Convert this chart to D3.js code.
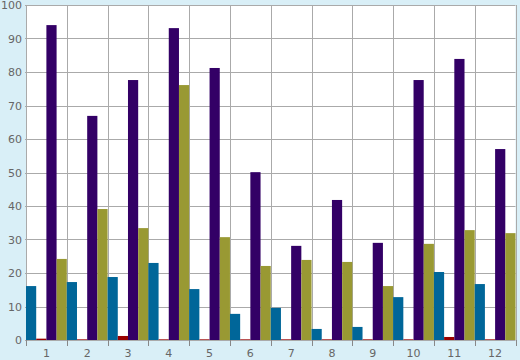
<!DOCTYPE html>
<html><head><meta charset="utf-8">
<script src="https://cdn.jsdelivr.net/npm/d3@7"></script>
<style>html,body{margin:0;padding:0;background:#d9eff7;}svg{display:block;}</style>
</head><body><svg id="c" width="520" height="360"></svg>
<script>
const categories = ["1","2","3","4","5","6","7","8","9","10","11","12"];
const seriesNames = ["A","B","C","D"];
const teal   = [16.1,17.3,18.8,23.0,15.2,7.8,9.6,3.3,3.9,12.8,20.3,16.7];
const red    = [0.4,0.2,1.2,0.2,0.2,0.2,0.2,0.2,0.2,0.2,0.9,0.2];
const purple = [94.0,66.9,77.6,93.1,81.2,50.1,28.1,41.8,29.0,77.6,83.9,57.0];
const olive  = [24.2,39.1,33.4,76.1,30.7,22.1,23.9,23.3,16.1,28.7,32.8,31.9];
const yTicks = [0,10,20,30,40,50,60,70,80,90,100];
const colors = ["#006699","#990000","#330066","#999933"];
const series = [teal, red, purple, olive];

const svg = d3.select("#c");
const m = {l:26, r:4.5, t:5, b:20};
const W = 520, H = 360;
const x = d3.scaleBand().domain(categories).range([m.l, W - m.r]).padding(0);
const x1 = d3.scaleBand().domain(seriesNames).range([0, x.bandwidth()]).padding(0);
const y = d3.scaleLinear().domain([0,100]).range([H - m.b, m.t]);

svg.append("rect").attr("x", m.l).attr("y", m.t).attr("width", W-m.r-m.l).attr("height", H-m.b-m.t).attr("fill","#fff");

// horizontal grid
svg.append("g").selectAll("line").data(yTicks).join("line")
  .attr("x1", m.l-1).attr("x2", W-m.r).attr("y1", d=>Math.round(y(d))+0.5).attr("y2", d=>Math.round(y(d))+0.5)
  .attr("stroke","#aaaaaa").attr("stroke-width",1);
// vertical grid
const bounds = categories.map(c=>x(c)).concat([W-m.r]);
svg.append("g").selectAll("line").data(bounds).join("line")
  .attr("x1", d=>Math.round(d)+0.5).attr("x2", d=>Math.round(d)+0.5).attr("y1", m.t).attr("y2", H-m.b)
  .attr("stroke","#aaaaaa").attr("stroke-width",1);

// bars
const g = svg.append("g");
categories.forEach((c,i)=>{
  series.forEach((s,j)=>{
    g.append("rect")
      .attr("x", x(c)+x1(seriesNames[j]))
      .attr("width", x1.bandwidth())
      .attr("y", y(s[i]))
      .attr("height", y(0)-y(s[i]))
      .attr("fill", colors[j]);
  });
});

// y axis labels
const ya = svg.append("g").attr("transform",`translate(${m.l},0)`)
  .call(d3.axisLeft(y).tickValues(yTicks).tickSize(0).tickPadding(4).tickFormat(d3.format("d")));
ya.select(".domain").remove();
ya.selectAll("text").attr("fill","#666").style("font-family","DejaVu Sans, Verdana, sans-serif").style("font-size","11px");

// x axis
const xa = svg.append("g").attr("transform",`translate(0,${H-m.b})`)
  .call(d3.axisBottom(x).tickSize(0).tickPadding(9));
xa.select(".domain").remove();
xa.selectAll("text").attr("fill","#666").style("font-family","DejaVu Sans, Verdana, sans-serif").style("font-size","11px");
svg.append("g").selectAll("line").data(bounds).join("line")
  .attr("x1", d=>Math.round(d)+0.5).attr("x2", d=>Math.round(d)+0.5).attr("y1", H-m.b).attr("y2", H-m.b+6)
  .attr("stroke","#888").attr("stroke-width",1);
</script></body></html>
